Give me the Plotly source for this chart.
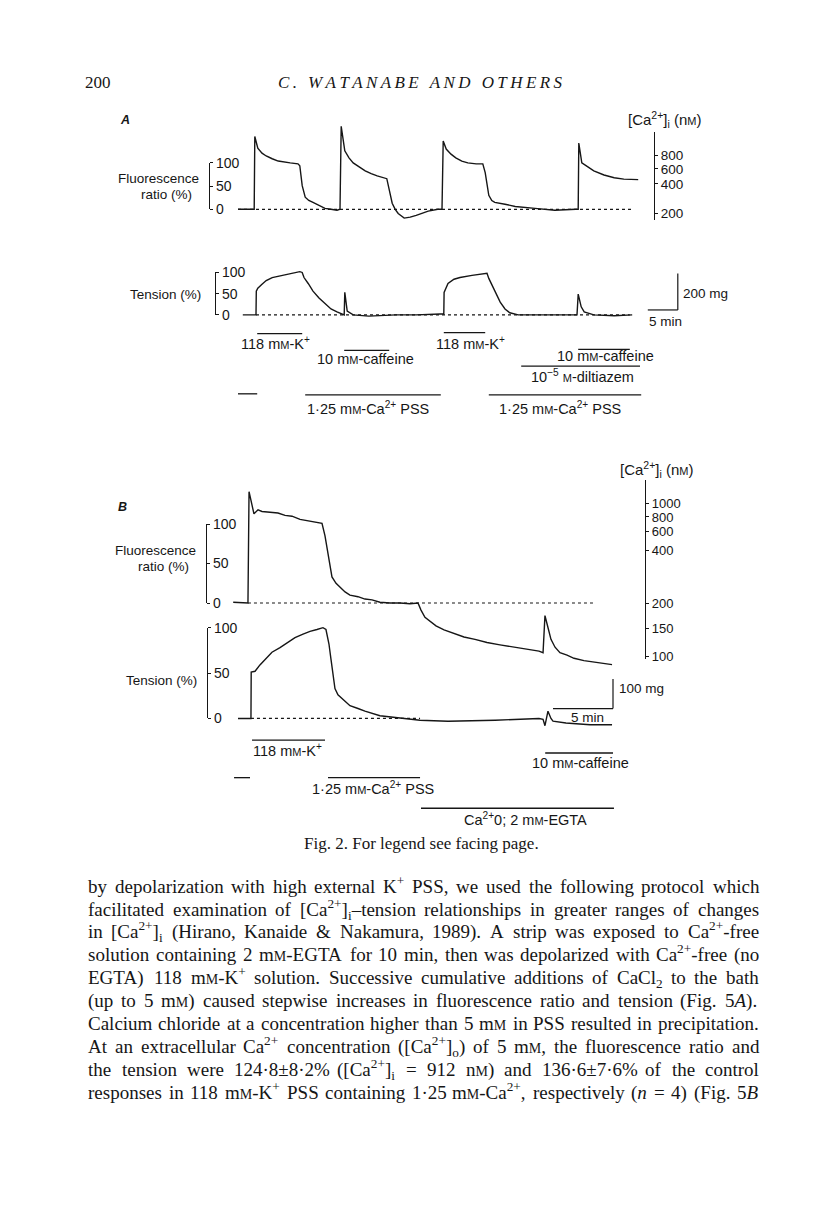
import re
import plotly.graph_objects as go

W, H = 816, 1208
SANS = "Liberation Sans, Arial, sans-serif"
SERIF = "Liberation Serif, Times New Roman, serif"
INK = "#161616"

# ---- data (time in min, response in % of control) ----
# A: fluorescence ratio
a_fluor_t = [1.0, 3.7, 3.8, 4.3, 5.0, 5.7, 6.7, 7.7, 9.7, 11.0, 11.3, 11.7, 12.2, 12.8, 13.5, 14.5,
             15.5, 16.5, 17.5, 18.0, 18.2, 18.8, 19.5, 20.2, 21.2, 22.2, 23.2, 24.2, 25.8, 26.2, 26.7,
             27.2, 27.7, 28.7, 29.7, 30.7, 32.7, 34.3, 35.0, 35.2, 35.7, 36.5, 37.3, 38.3, 39.3, 40.7,
             41.8, 42.2, 42.5, 42.8, 43.3, 43.8, 45.5, 47.2, 50.5, 53.8, 57.3, 57.7, 57.8, 58.3, 59.0,
             60.3, 62.0, 63.7, 65.3, 67.0, 67.7]
a_fluor = [0, 0, 157, 132, 121, 115, 109, 104, 100, 98, 94, 51, 26, 19, 15, 9,
           2, 0, -2, 0, 179, 126, 111, 100, 91, 83, 77, 72, 66, 45, 13,
           0, -9, -19, -17, -13, -4, 0, 0, 147, 130, 119, 111, 104, 100, 98,
           98, 79, 51, 30, 19, 15, 11, 6, 2, -2, 0, 0, 143, 100, 94,
           83, 74, 68, 65, 64, 64]
# A: tension
a_tens_t = [1.8, 4.0, 4.05, 4.3, 5.0, 5.7, 6.7, 7.7, 8.7, 9.7, 11.3, 11.7, 12.0, 12.7, 13.5, 14.5,
            15.5, 16.5, 17.5, 18.5, 18.7, 18.8, 19.2, 20.2, 22.8, 27.3, 30.7, 34.7, 35.3, 35.35,
            36.0, 37.0, 38.0, 40.0, 42.2, 42.5, 42.8, 43.8, 44.7, 45.5, 46.3, 47.7, 57.5, 57.7,
            58.2, 58.7, 60.3, 63.7, 66.7]
a_tens = [0, 0, 56, 63, 72, 81, 88, 91, 95, 98, 102, 100, 88, 74, 56, 40,
          26, 14, 7, 0, 0, 53, 9, 0, -3, 0, 0, 2, 2, 53,
          74, 84, 88, 93, 98, 98, 86, 56, 30, 14, 5, 0, 0, 49,
          19, 7, 0, -2, 0]
# B: fluorescence ratio
b_fluor_t = [0.1, 1.25, 1.33, 1.42, 1.58, 1.83, 2.17, 2.5, 3.17, 3.83, 4.42, 5.0, 5.67, 6.33, 6.92,
             7.5, 7.75, 8.0, 8.33, 8.67, 9.0, 9.42, 9.83, 10.5, 11.08, 11.67, 12.33, 13.17, 14.0,
             14.83, 15.5, 15.75, 16.08, 16.33, 17.0, 17.67, 18.5, 19.33, 20.25, 21.25, 22.33, 23.58,
             24.58, 25.58, 25.92, 26.08, 26.33, 26.58, 26.92, 27.33, 27.92, 28.5, 29.33, 30.17,
             30.92, 31.67]
b_fluor = [1, 0, 0, 141, 129, 113, 118, 116, 115, 114, 111, 110, 106, 104, 103,
           101, 85, 60, 33, 25, 20, 14, 10, 8, 5, 4, 1, 0, 0,
           -1, 0, -9, -18, -21, -29, -34, -39, -43, -46, -50, -53, -56,
           -59, -61, -63, -16, -31, -46, -56, -63, -66, -70, -73, -75,
           -76, -78]
# B: tension
b_tens_t = [0.5, 1.58, 1.6, 1.92, 2.33, 2.75, 3.33, 4.0, 4.67, 5.25, 5.92, 6.5, 7.08, 7.58, 7.83,
            8.08, 8.25, 8.58, 8.83, 9.17, 9.83, 10.5, 11.08, 12.33, 13.58, 15.67, 18.0, 21.92,
            25.58, 25.92, 26.08, 26.33, 26.58, 26.75, 27.83, 29.83, 31.67]
b_tens = [0, 0, 51, 52, 59, 65, 73, 78, 84, 89, 93, 96, 98, 100, 98,
          82, 65, 33, 26, 22, 14, 11, 8, 3, 1, -2, -3, -2,
          0, -1, -8, 8, 0, -3, -5, -7, -7]

# zero-level dotted lines (start, end in min)
a_fluor_base = [1.0, 66.7]
a_tens_base = [4.0, 66.3]
b_fluor_base = [1.33, 30.33]
b_tens_base = [1.58, 15.67]

# [Ca2+]i calibration: nM value and the ratio (%) level it sits at
ca_a_nm = [200, 400, 600, 800]
ca_a_ratio = [-8, 55, 87, 117]
ca_b_nm = [100, 150, 200, 400, 600, 800, 1000]
ca_b_ratio = [-68, -32, -1, 66, 91, 109, 126]

pct_ticks = [0, 50, 100]

# drug application periods (min)
a_k1 = [4.2, 11.7]
a_caf1 = [18.7, 26.2]
a_k2 = [35.3, 42.2]
a_caf2 = [57.7, 66.3]
a_dilt = [48.2, 68.0]
a_pre = [1.0, 4.2]
a_pss1 = [12.2, 34.8]
a_pss2 = [42.8, 68.2]
b_k = [1.67, 7.75]
b_caf = [26.1, 31.75]
b_pre = [0.17, 1.5]
b_pss = [8.0, 15.67]
b_egta = [15.75, 31.83]

# body text; 'ᴍ' marks a small-capital M
body_lines = [
    "by depolarization with high external K<sup>+</sup> PSS, we used the following protocol which",
    "facilitated examination of [Ca<sup>2+</sup>]<sub>i</sub>–tension relationships in greater ranges of changes",
    "in [Ca<sup>2+</sup>]<sub>i</sub> (Hirano, Kanaide &amp; Nakamura, 1989). A strip was exposed to Ca<sup>2+</sup>-free",
    "solution containing 2 mᴍ-EGTA for 10 min, then was depolarized with Ca<sup>2+</sup>-free (no",
    "EGTA) 118 mᴍ-K<sup>+</sup> solution. Successive cumulative additions of CaCl<sub>2</sub> to the bath",
    "(up to 5 mᴍ) caused stepwise increases in fluorescence ratio and tension (Fig. 5<i>A</i>).",
    "Calcium chloride at a concentration higher than 5 mᴍ in PSS resulted in precipitation.",
    "At an extracellular Ca<sup>2+</sup> concentration ([Ca<sup>2+</sup>]<sub>o</sub>) of 5 mᴍ, the fluorescence ratio and",
    "the tension were 124·8±8·2% ([Ca<sup>2+</sup>]<sub>i</sub> = 912 nᴍ) and 136·6±7·6% of the control",
    "responses in 118 mᴍ-K<sup>+</sup> PSS containing 1·25 mᴍ-Ca<sup>2+</sup>, respectively (<i>n</i> = 4) (Fig. 5<i>B</i>",
]

# approximate Times advance widths (per 1000 em) used to justify the body text
TIMES = {" ": 250, "!": 333, "(": 333, ")": 333, "+": 564, ",": 250, "-": 333, ".": 250, ":": 278,
         ";": 278, "=": 564, "[": 333, "]": 333, "&": 778, "%": 833, "±": 564, "·": 250, "–": 500,
         "A": 722, "B": 667, "C": 667, "D": 722, "E": 611, "F": 556, "G": 722, "H": 722, "I": 333,
         "K": 722, "L": 611, "M": 889, "N": 722, "P": 556, "S": 556, "T": 611, "a": 444, "b": 500,
         "c": 444, "d": 500, "e": 444, "f": 333, "g": 500, "h": 500, "i": 278, "j": 278, "k": 500,
         "l": 278, "m": 778, "n": 500, "o": 500, "p": 500, "q": 500, "r": 333, "s": 389, "t": 278,
         "u": 500, "v": 500, "w": 722, "x": 500, "y": 500, "z": 444, "ᴍ": 660}

# invisible raised and lowered hair spaces so every word box has the same height
STRUT = "<sup>\u200a</sup><sub>\u200a</sub>"


def smallcaps(s, size):
    return s.replace("ᴍ", "<span style='font-size:%dpx'>M</span>" % round(size * 0.74))


def html_width(s, size):
    s = s.replace("&amp;", "&")
    w, scale = 0.0, [1.0]
    for tag, chunk in re.findall(r"(<[^>]+>)|([^<]+)", s):
        if tag:
            if tag.startswith("</"):
                scale.pop()
            elif tag in ("<sup>", "<sub>"):
                scale.append(scale[-1] * 0.7)
            else:
                scale.append(scale[-1])
        else:
            for ch in chunk:
                w += TIMES.get(ch, 500) * scale[-1]
    return w * size / 1000


def px(x):
    return x / W


def py(y):
    return 1 - y / H


fig = go.Figure()

# trace panels: (x left, x right, y top, y bottom, px per min, y of 0 %, y of 100 %)
panels = {
    1: (232, 640, 110, 225, 6, 204, 157),
    2: (232, 700, 255, 330, 6, 311, 268),
    3: (232, 640, 480, 680, 12, 603, 523),
    4: (232, 640, 615, 740, 12, 720, 628),
}
X0 = 232
axes = {}
for n, (xl, xr, yt, yb, ppm, y0, y100) in panels.items():
    s = (y0 - y100) / 100
    k = "" if n == 1 else str(n)
    axes["xaxis" + k] = dict(domain=[px(xl), px(xr)], range=[(xl - X0) / ppm, (xr - X0) / ppm],
                             visible=False, anchor="y" + k, fixedrange=True)
    axes["yaxis" + k] = dict(domain=[py(yb), py(yt)], range=[(y0 - yb) / s, (y0 - yt) / s],
                             visible=False, anchor="x" + k, fixedrange=True)


def trace(t, v, n, dash=None, width=1.4):
    k = "" if n == 1 else str(n)
    fig.add_trace(go.Scatter(x=t, y=v, xaxis="x" + k, yaxis="y" + k, mode="lines",
                             line=dict(color=INK, width=width, dash=dash),
                             hoverinfo="skip", showlegend=False))


trace(a_fluor_base, [0, 0], 1, dash="dot", width=1.2)
trace(a_fluor_t, a_fluor, 1)
trace(a_tens_base, [0, 0], 2, dash="dot", width=1.2)
trace(a_tens_t, a_tens, 2)
trace(b_fluor_base, [0, 0], 3, dash="dot", width=1.2)
trace(b_fluor_t, b_fluor, 3)
trace(b_tens_base, [0, 0], 4, dash="dot", width=1.2)
trace(b_tens_t, b_tens, 4)

# bracket / calibration axes (each on its own y axis, sharing a hidden x axis)
axes["xaxis5"] = dict(domain=[0, 0.01], visible=False, anchor="y5", fixedrange=True)
side_axes = [
    # (n, x pos, y top px, y bottom px, range, tickvals, ticktext, font size)
    (5, 209, 157, 204, [0, 100], pct_ticks, [str(v) for v in pct_ticks], 14),
    (6, 215, 268, 311, [0, 100], pct_ticks, [str(v) for v in pct_ticks], 14),
    (7, 206, 523, 603, [0, 100], pct_ticks, [str(v) for v in pct_ticks], 14),
    (8, 207, 628, 720, [0, 100], pct_ticks, [str(v) for v in pct_ticks], 14),
    (9, 654, 126, 215, [(204 - 215) / 0.47, (204 - 126) / 0.47], ca_a_ratio, [str(v) for v in ca_a_nm], 13.5),
    (10, 645, 478, 660, [(603 - 660) / 0.8, (603 - 478) / 0.8], ca_b_ratio, [str(v) for v in ca_b_nm], 13),
]
for n, xpos, yt, yb, rng, tv, tt, fs in side_axes:
    axes["yaxis%d" % n] = dict(domain=[py(yb), py(yt)], range=rng, anchor="free", position=px(xpos),
                               side="right", showline=True, linecolor=INK, linewidth=1.2,
                               ticks="outside", ticklen=3, tickwidth=1.1, tickcolor=INK,
                               tickvals=tv, ticktext=tt, showgrid=False, zeroline=False,
                               tickfont=dict(family=SANS, size=fs, color=INK), fixedrange=True)
    fig.add_trace(go.Scatter(x=[0, 1], y=[rng[0], rng[0]], xaxis="x5", yaxis="y%d" % n,
                             mode="lines", line=dict(width=0), hoverinfo="skip", showlegend=False))

shapes = []


def hbar(period, xref, y, width=1.3):
    shapes.append(dict(type="line", xref=xref, yref="paper", x0=period[0], x1=period[1],
                       y0=py(y), y1=py(y), line=dict(color=INK, width=width)))


def vbar(t, xref, ya, yb, width=1.2):
    shapes.append(dict(type="line", xref=xref, yref="paper", x0=t, x1=t, y0=py(ya), y1=py(yb),
                       line=dict(color=INK, width=width)))


hbar(a_k1, "x2", 330)
hbar(a_caf1, "x2", 347)
hbar(a_k2, "x2", 329)
hbar(a_caf2, "x2", 346)
hbar(a_dilt, "x2", 363)
hbar(a_pre, "x2", 391)
hbar(a_pss1, "x2", 392)
hbar(a_pss2, "x2", 392)
hbar(b_k, "x4", 742)
hbar(b_caf, "x4", 755)
hbar(b_pre, "x4", 780)
hbar(b_pss, "x4", 780)
hbar(b_egta, "x4", 811)

# scale bars: 5 min on the time axis, 200 mg / 100 mg vertical
hbar([69.3, 74.3], "x2", 306, 1.2)
vbar(74.3, "x2", 306, 269)
hbar([26.75, 31.75], "x4", 710, 1.2)
vbar(31.75, "x4", 710, 680)

ann = []


def txt(x, y, s, size=13.5, anchor="center", family=SANS, color=INK):
    ann.append(dict(x=px(x), y=py(y), xref="paper", yref="paper", text=smallcaps(s, size),
                    showarrow=False, xanchor=anchor, yanchor="middle",
                    font=dict(family=family, size=size, color=color)))


CA = "[Ca<sup>2+</sup>]<sub>i</sub> (nᴍ)"

# page header
txt(83, 76, "200", 17, "left", SERIF)
txt(420, 76, "<i>" + "\u2009".join("C. WATANABE AND OTHERS") + "</i>", 17, "center", SERIF)

# panel A labels
txt(118, 113, "<b><i>A</i></b>", 12.5, "left")
txt(704, 113, CA, 15, "right")
txt(201, 173, "Fluorescence", 13.5, "right")
txt(166, 189, "ratio (%)", 13.5)
txt(203, 290, "Tension (%)", 13.5, "right")
txt(681, 289, "200 mg", 13.5, "left")
txt(665, 318, "5 min", 13.5)
txt(275, 340, "118 mᴍ-K<sup>+</sup>", 14.5)
txt(365, 356, "10 mᴍ-caffeine", 14.5)
txt(471, 339, "118 mᴍ-K<sup>+</sup>", 14.5)
txt(605, 353, "10 mᴍ-caffeine", 14.5)
txt(582, 373, "10<sup>−5</sup> ᴍ-diltiazem", 14.5)
txt(368, 405, "1·25 mᴍ-Ca<sup>2+</sup> PSS", 14.5)
txt(560, 405, "1·25 mᴍ-Ca<sup>2+</sup> PSS", 14.5)

# panel B labels
txt(696, 468, CA, 15, "right")
txt(116, 506, "<b><i>B</i></b>", 12.5, "left")
txt(198, 550, "Fluorescence", 13.5, "right")
txt(163, 566, "ratio (%)", 13.5)
txt(199, 682, "Tension (%)", 13.5, "right")
txt(617, 690, "100 mg", 13.5, "left")
txt(587, 719, "5 min", 13.5)
txt(287, 752, "118 mᴍ-K<sup>+</sup>", 14.5)
txt(580, 765, "10 mᴍ-caffeine", 14.5)
txt(373, 790, "1·25 mᴍ-Ca<sup>2+</sup> PSS", 14.5)
txt(525, 822, "Ca<sup>2+</sup>0; 2 mᴍ-EGTA", 14.5)

# caption
txt(421, 847, "Fig. 2. For legend see facing page.", 17, "center", SERIF)

# body text, justified word by word between the two margins
BODY_L, BODY_R, BODY_SIZE = 86, 757, 19
for i, line in enumerate(body_lines):
    words = line.split(" ")
    widths = [html_width(wd, BODY_SIZE) for wd in words]
    gap = (BODY_R - BODY_L - sum(widths)) / (len(words) - 1)
    x = BODY_L
    y = 890 + 23.2 * i
    for wd, wdw in zip(words, widths):
        txt(x, y, wd + STRUT, BODY_SIZE, "left", SERIF)
        x += wdw + gap

fig.update_layout(width=W, height=H, margin=dict(l=0, r=0, t=0, b=0),
                  paper_bgcolor="white", plot_bgcolor="rgba(0,0,0,0)", showlegend=False,
                  shapes=shapes, annotations=ann, **axes)

fig.write_html("out.html", config={"displayModeBar": False},
               post_script="document.body.style.margin='0';document.body.style.overflow='hidden';")
